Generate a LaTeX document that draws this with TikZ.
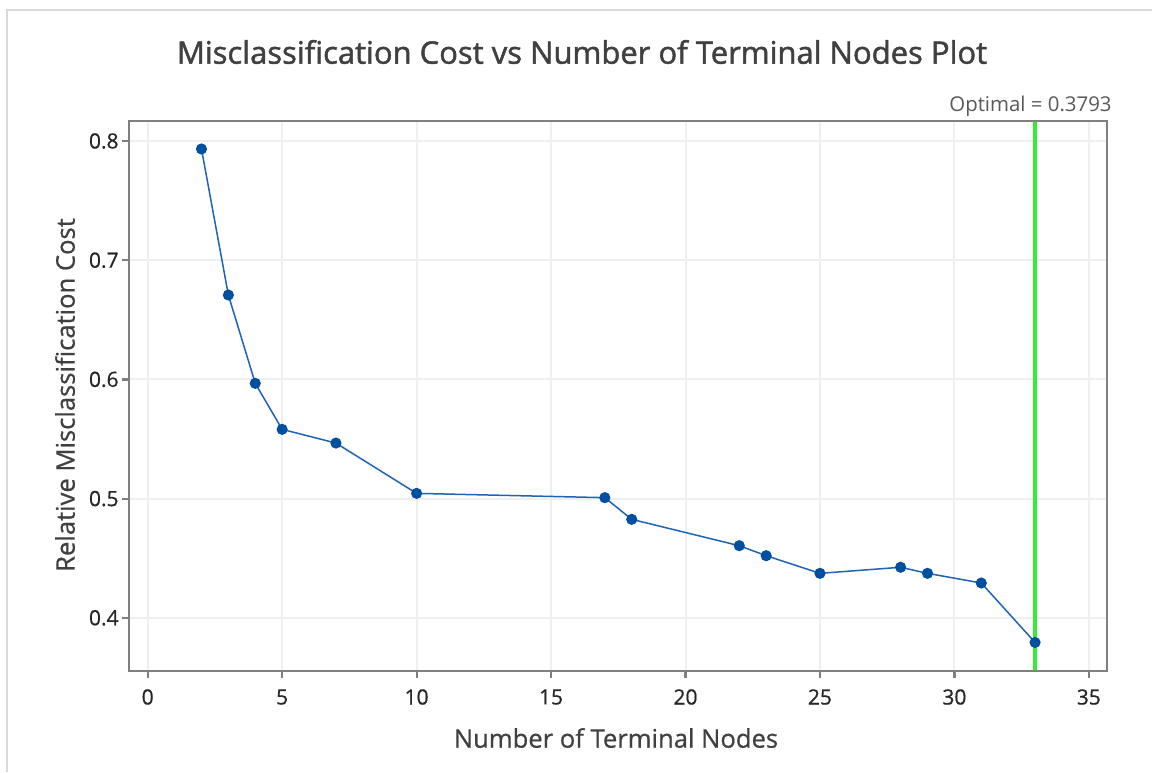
\documentclass[tikz,border=0pt]{standalone}
\usepackage{fontspec}
\setmainfont{Open Sans}
\newfontfamily\titlefont[FakeBold=1.5]{Open Sans}
\newfontfamily\semifont[FakeBold=0.6]{Open Sans}
\definecolor{titlegray}{HTML}{404040}
\definecolor{tickgray}{HTML}{262626}
\definecolor{framegray}{HTML}{808080}
\definecolor{gridgray}{HTML}{EFEFEF}
\definecolor{outergray}{HTML}{DADADA}
\definecolor{optgray}{HTML}{595959}
\definecolor{lineblue}{HTML}{1F64B4}
\definecolor{dotblue}{HTML}{0050A0}
\definecolor{optgreen}{HTML}{33EE33}
\tikzset{
  gridline/.style={gridgray, line width=1pt},
  framebox/.style={framegray, line width=1.1pt},
  tickmark/.style={framegray, line width=1.1pt},
  ticklabel/.style={text=tickgray, font=\semifont\fontsize{10.5}{12}\selectfont, inner sep=0pt},
  axlabel/.style={text=titlegray, font=\semifont\fontsize{12.8}{14}\selectfont, inner sep=0pt},
  datadot/.style={circle, fill=dotblue, inner sep=0pt, minimum size=5.6pt},
  dataline/.style={lineblue, line width=0.75pt},
  optline/.style={optgreen, line width=1.6pt},
}
\newcommand\PX[1]{147.7+26.89*(#1)}
\newcommand\PY[1]{141+(0.8-(#1))*1192}
\begin{document}
\begin{tikzpicture}[x=0.5pt,y=-0.5pt]
\useasboundingbox (0,0) rectangle (1152,772);
\fill[white] (0,0) rectangle (1152,772);
% outer border
\draw[outergray, line width=1pt] (7,772) -- (7,10) -- (1152,10);
% title
\node[text=titlegray, font=\titlefont\fontsize{15.5}{17}\selectfont, inner sep=0pt] (title) at (582,52) {Misclassification Cost vs Number of Terminal Nodes Plot};
% grid
\foreach \gx in {0,5,...,35} {
  \draw[gridline] ({\PX{\gx}},121.5) -- ({\PX{\gx}},670);
}
\foreach \gy in {0.4,0.5,0.6,0.7,0.8} {
  \draw[gridline] (130,{\PY{\gy}}) -- (1106.5,{\PY{\gy}});
}
% ticks and labels
\foreach \gx in {0,5,...,35} {
  \draw[tickmark] ({\PX{\gx}},670.7) -- ({\PX{\gx}},678);
  \node[ticklabel] (xt\gx) at ({\PX{\gx}},697) {\gx};
}
\foreach \gy in {0.4,0.5,0.6,0.7,0.8} {
  \draw[tickmark] (129.3,{\PY{\gy}}) -- (122,{\PY{\gy}});
  \node[ticklabel, anchor=east] (yt\gy) at (119,{\PY{\gy}}) {\gy};
}
% optimal line
\draw[optline] ({\PX{33}},121.5) -- ({\PX{33}},670);
\node[text=optgray, font=\fontsize{10.2}{12}\selectfont, inner sep=0pt, anchor=east] (opt) at (1112,106) {Optimal = 0.3793};
% data
\foreach \i/\xx/\vv in {1/2/0.7933,2/3/0.6708,3/4/0.5967,4/5/0.5581,5/7/0.5466,6/10/0.5044,7/17/0.5008,8/18/0.4826,9/22/0.4605,10/23/0.4521,11/25/0.4373,12/28/0.4424,13/29/0.4373,14/31/0.4292,15/33/0.3793} {
  \coordinate (p\i) at ({\PX{\xx}},{\PY{\vv}});
}
\draw[dataline] (p1) \foreach \i in {2,...,15} { -- (p\i) };
\foreach \i in {1,...,15} { \node[datadot] (d\i) at (p\i) {}; }
% frame
\draw[framebox] (129.3,120.7) rectangle (1107.3,670.7);
% axis labels
\node[axlabel] (xlab) at (616,738) {Number of Terminal Nodes};
\node[axlabel, rotate=90] (ylab) at (65,395) {Relative Misclassification Cost};
\end{tikzpicture}
\end{document}
